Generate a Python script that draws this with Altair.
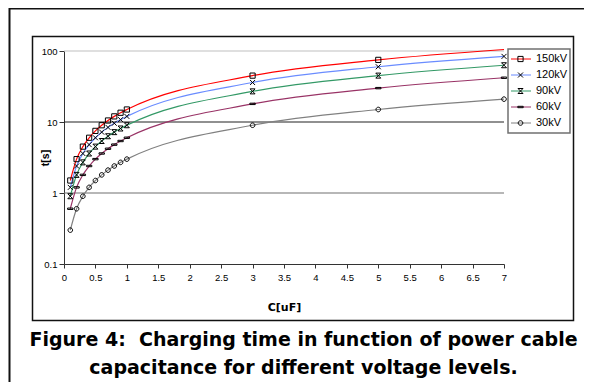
import altair as alt
import pandas as pd

# ---- data ----
capacitance = [0.1, 0.2, 0.3, 0.4, 0.5, 0.6, 0.7, 0.8, 0.9, 1.0, 3, 5, 7]
t_150kv = [1.5, 3.0, 4.5, 6.0, 7.5, 9.0, 10.5, 12.0, 13.5, 15.0, 45, 75, 105]
t_120kv = [1.2, 2.4, 3.6, 4.8, 6.0, 7.2, 8.4, 9.6, 10.8, 12.0, 36, 60, 84]
t_90kv = [0.9, 1.8, 2.7, 3.6, 4.5, 5.4, 6.3, 7.2, 8.1, 9.0, 27, 45, 63]
t_60kv = [0.6, 1.2, 1.8, 2.4, 3.0, 3.6, 4.2, 4.8, 5.4, 6.0, 18, 30, 42]
t_30kv = [0.3, 0.6, 0.9, 1.2, 1.5, 1.8, 2.1, 2.4, 2.7, 3.0, 9, 15, 21]

series_names = ["150kV", "120kV", "90kV", "60kV", "30kV"]
marker_names = ["m150", "m120", "m90", "m60", "m30"]
series_values = [t_150kv, t_120kv, t_90kv, t_60kv, t_30kv]
series_colors = ["#ff0000", "#6a8cff", "#339966", "#993366", "#808080"]
marker_paths = [
    "M-0.26,-0.26H0.26V0.26H-0.26Z",                                   # open square
    "M-0.25,-0.25L0.25,0.25M-0.25,0.25L0.25,-0.25",                    # x
    "M-0.25,-0.25L0.25,0.25M-0.25,0.25L0.25,-0.25M-0.25,-0.25H0.25M-0.25,0.25H0.25",  # star
    "M-0.27,-0.07H0.27V0.07H-0.27Z",                                   # dash
    "M0.23,0A0.23,0.23 0 1,1 -0.23,0A0.23,0.23 0 1,1 0.23,0Z",         # circle
]

x_ticks = [0, 0.5, 1, 1.5, 2, 2.5, 3, 3.5, 4, 4.5, 5, 5.5, 6, 6.5, 7]
y_ticks = [0.1, 1, 10, 100]
grid_values = [100, 10, 1]
grid_colors = ["#c0c0c0", "#222222", "#707070"]

caption = ["Figure 4:\u00a0 Charging time in function of power cable",
           "capacitance for different voltage levels."]

W, H = 440, 213

rows = []
for name, mk, vals in zip(series_names, marker_names, series_values):
    for c, t in zip(capacitance, vals):
        rows.append({"C": c, "t": t, "series": name, "marker": mk})
df = pd.DataFrame(rows)
grid_df = pd.DataFrame({"t": grid_values, "col": grid_colors})

x_scale = alt.Scale(domain=[0, 7], nice=False, zero=False)
y_scale = alt.Scale(type="log", domain=[0.1, 100], nice=False)

x_axis = alt.Axis(
    values=x_ticks, format="~g", title="C[uF]", grid=False,
    titleFont="DejaVu Sans", titleFontWeight="bold", titleFontSize=11,
    titleX=W / 2, titleY=46, titleAlign="center", titleBaseline="alphabetic",
    tickSize=4, labelPadding=4, domainColor="#333333", tickColor="#333333",
    labelFont="Liberation Sans", labelFontSize=9.5, labelColor="black",
    labelFlush=False, labelOverlap=False)
y_axis = alt.Axis(
    values=y_ticks, format="~g", title="t[s]", grid=False,
    titleFont="Liberation Sans", titleFontWeight="bold", titleFontSize=10.5,
    titleAngle=270, titleX=-16, titleY=H / 2, titleAlign="center",
    titleBaseline="alphabetic",
    tickSize=5, labelPadding=2, domainColor="#333333", tickColor="#333333",
    labelFont="Liberation Sans", labelFontSize=9.5, labelColor="black",
    labelOverlap=False)

base = alt.Chart(df)

frames_outer = alt.Chart(alt.Data(values=[{}])).mark_rect(
    fillOpacity=0, stroke="#111111", strokeWidth=2
).encode(x=alt.value(-54.5), x2=alt.value(600), y=alt.value(-42.5), y2=alt.value(600))

frames_inner = alt.Chart(alt.Data(values=[{}])).mark_rect(
    fillOpacity=0, stroke="#111111", strokeWidth=1.5
).encode(x=alt.value(-31.5), x2=alt.value(509.5), y=alt.value(-14.5), y2=alt.value(269.5))

grid = alt.Chart(grid_df).mark_rule(strokeWidth=1.2).encode(
    y=alt.Y("t:Q", scale=y_scale, axis=y_axis),
    x=alt.value(0), x2=alt.value(W),
    stroke=alt.Stroke("col:N", scale=None),
)

lines = base.mark_line(interpolate="monotone", strokeWidth=1.2).encode(
    x=alt.X("C:Q", scale=x_scale, axis=x_axis),
    y=alt.Y("t:Q", scale=y_scale, axis=y_axis),
    color=alt.Color("series:N", scale=alt.Scale(domain=series_names, range=series_colors),
                    legend=alt.Legend(
                        title=None, orient="none", legendX=444, legendY=-2,
                        padding=2, clipHeight=16, rowPadding=0,
                        symbolType="stroke", symbolSize=400, symbolStrokeWidth=1.2,
                        labelFont="Liberation Sans", labelFontSize=11, labelOffset=4,
                        labelColor="black", strokeColor="#707070",
                        fillColor="white")),
)

points = base.transform_filter("datum.t <= 100").mark_point(
    filled=False, size=400, strokeWidth=1, color="black", opacity=1
).encode(
    x=alt.X("C:Q", scale=x_scale, axis=x_axis),
    y=alt.Y("t:Q", scale=y_scale, axis=y_axis),
    shape=alt.Shape("marker:N", scale=alt.Scale(domain=marker_names, range=marker_paths),
                    legend=alt.Legend(
                        title=None, orient="none", legendX=444, legendY=-2,
                        padding=2, clipHeight=16, rowPadding=0,
                        symbolSize=400, symbolStrokeWidth=1, symbolStrokeColor="black",
                        symbolFillColor="transparent",
                        labelFont="Liberation Sans", labelFontSize=11, labelOffset=4,
                        labelExpr="''")),
)

caption_text = alt.Chart(alt.Data(values=[{}])).mark_text(
    text=caption, align="center", baseline="alphabetic", font="DejaVu Sans",
    fontWeight="bold", fontSize=19, lineHeight=28, color="black"
).encode(x=alt.value(239.5), y=alt.value(295))

chart = alt.layer(frames_outer, frames_inner, grid, lines, points, caption_text).properties(
    width=W, height=H,
    background="white",
    autosize=alt.AutoSizeParams(type="none"),
    padding={"left": 56, "top": 43, "right": 80, "bottom": 118},
).configure_view(stroke=None).configure_legend(strokeWidth=1.5)

chart.save("out.html", embed_options={"renderer": "svg", "actions": False})
